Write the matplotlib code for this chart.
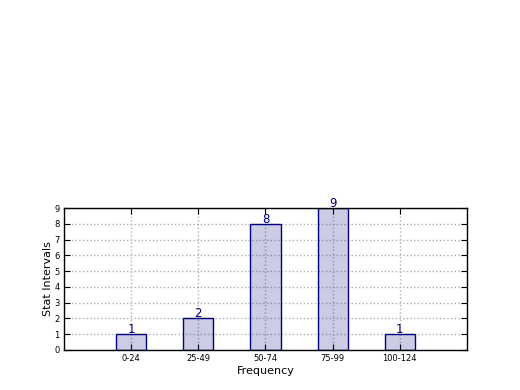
import matplotlib
matplotlib.use("Agg")
import matplotlib.pyplot as plt

# Histogram-style counts per stat interval
intervals = ["0-24", "25-49", "50-74", "75-99", "100-124"]
counts = [1, 2, 8, 9, 1]
positions = [1, 2, 3, 4, 5]

fig = plt.figure(figsize=(5.2, 3.9), dpi=100)
ax = fig.add_axes([0.123, 0.1026, 0.775, 0.364])

ax.set_axisbelow(True)
ax.grid(True, linestyle=":", color="#b0b0b0", linewidth=1.0)

# translucent fill so the grid shows through, solid navy outline
bars = ax.bar(positions, counts, width=0.45, color=(0.0, 0.0, 0.5, 0.2),
              edgecolor="#000080", linewidth=1.0)
for x, c in zip(positions, counts):
    ax.text(x, c - 0.12, str(c), ha="center", va="bottom", color="#000080", fontsize=8.5)

ax.set_xlim(0, 6)
ax.set_ylim(0, 9)
ax.set_xticks(positions)
ax.set_xticklabels(intervals, fontsize=6)
ax.set_yticks(range(10))
ax.tick_params(axis="y", labelsize=6)
ax.tick_params(direction="in", top=True, right=True, length=4, width=0.8, pad=3)
ax.set_xlabel("Frequency", fontsize=8, labelpad=2)
ax.set_ylabel("Stat Intervals", fontsize=8, labelpad=1)
for s in ax.spines.values():
    s.set_linewidth(1.0)

fig.savefig("out.png", dpi=100)
